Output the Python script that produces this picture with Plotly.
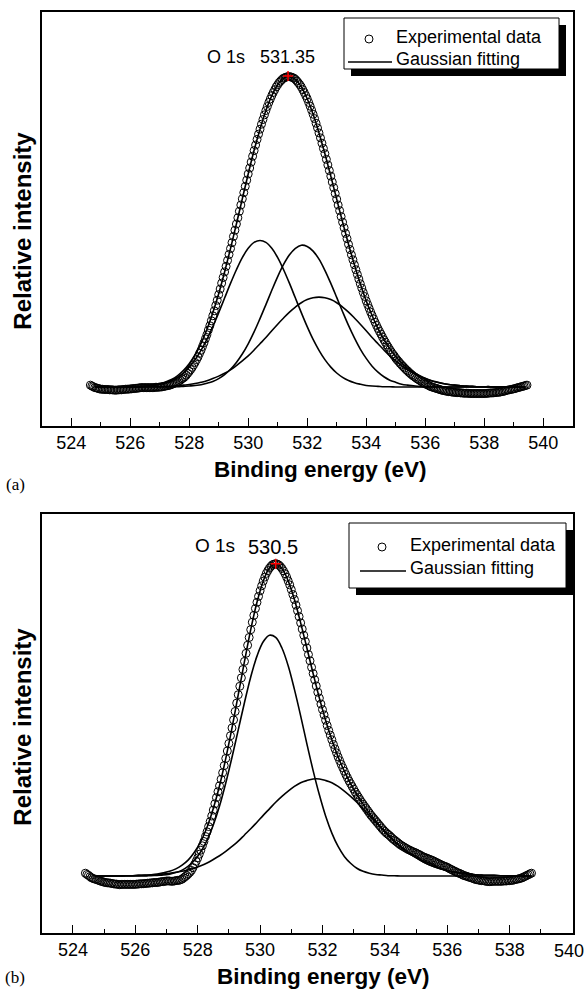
import plotly.graph_objects as go

# ---------------- data ----------------
# (a) experimental O 1s spectrum, sampled every 0.05 eV from 524.65 eV
EXP_A_START, EXP_STEP = 524.65, 0.05
exp_a = [
    0.6,0.3,0.1,-0.2,-0.3,-0.4,-0.6,-0.7,-0.7,-0.8,
    -0.8,-0.8,-0.8,-0.9,-0.9,-0.9,-1.0,-1.0,-1.0,-0.9,
    -0.9,-0.9,-0.8,-0.8,-0.7,-0.7,-0.7,-0.6,-0.6,-0.5,
    -0.5,-0.4,-0.4,-0.3,-0.2,-0.2,-0.2,-0.2,-0.2,-0.2,
    -0.2,-0.2,-0.2,-0.2,-0.1,-0.1,-0.1,0.0,0.0,0.1,
    0.2,0.3,0.4,0.5,0.6,0.8,1.0,1.2,1.4,1.6,
    1.9,2.2,2.6,
    2.9,3.3,3.8,4.4,5.0,5.6,6.3,7.1,7.9,8.8,
    9.7,10.8,11.8,13.0,14.2,15.5,16.8,18.3,19.7,21.3,
    22.9,24.5,26.2,27.9,29.7,31.5,33.4,35.2,37.0,38.8,
    40.7,42.6,44.5,46.4,48.4,50.4,52.4,54.4,56.5,58.5,
    60.5,62.5,64.5,66.5,68.5,70.4,72.3,74.2,76.0,77.8,
    79.6,81.3,82.9,84.5,86.0,87.5,88.9,90.2,91.5,92.6,
    93.7,94.7,95.6,96.5,97.2,97.9,98.4,98.9,99.3,99.5,
    99.7,99.8,99.8,99.7,99.5,99.3,98.9,98.4,97.8,97.2,
    96.5,95.6,94.7,93.7,92.7,91.5,90.3,89.0,87.7,86.3,
    84.8,83.3,81.7,80.1,78.4,76.7,75.0,73.2,71.4,69.6,
    67.8,65.9,64.1,62.2,60.4,58.5,56.7,54.8,53.0,51.2,
    49.4,47.7,45.9,44.2,42.5,40.9,39.3,37.7,36.2,34.7,
    33.2,31.8,30.4,29.1,27.7,26.5,25.3,24.1,23.0,21.9,
    20.8,19.8,18.8,17.9,17.0,16.1,15.2,14.4,13.5,12.8,
    12.0,11.3,10.6,10.0,9.3,8.7,8.2,7.6,7.1,6.6,
    6.1,5.6,5.2,4.7,4.3,3.9,3.5,3.2,2.8,2.5,
    2.2,1.9,1.6,1.3,1.0,0.8,0.6,0.3,0.1,-0.1,
    -0.2,-0.4,-0.5,-0.7,-0.8,-1.0,-1.1,-1.2,-1.3,-1.4,
    -1.5,-1.5,-1.6,-1.7,-1.7,-1.8,-1.8,-1.8,-1.9,-1.9,
    -2.0,-2.0,-2.0,-2.0,-2.1,-2.1,-2.1,-2.1,-2.1,-2.1,
    -2.1,-2.1,-2.1,-2.1,-2.1,-2.1,-2.0,-2.0,-1.9,-1.9,
    -1.9,-1.8,-1.8,-1.7,-1.7,-1.6,-1.5,-1.4,-1.3,-1.1,
    -1.0,-0.9,-0.8,-0.7,-0.6,-0.5,-0.3,-0.2,-0.1,0.1,
    0.2,0.3,0.5,0.6,
]
# (a) Gaussian components and their sum, every 0.2 eV from 524.8 eV
FIT_A_START, FIT_STEP = 524.8, 0.2
fit_a1 = [0,0,0,0,0, 0,0.1,0.1,0.2,0.3, 0.5,0.9,1.4,2.1,3.1, 4.5,6.4,8.8,11.8,15.3,
          19.4,23.9,28.6,33.3,37.7, 41.6,44.6,46.5,47.1,46.5, 44.6,41.6,37.7,33.3,28.6,
          23.9,19.4,15.3,11.8,8.8, 6.4,4.5,3.1,2.1,1.4, 0.9,0.5,0.3,0.2,0.1, 0.1,0,0,0,0,
          0,0,0,0,0, 0,0,0,0,0, 0,0,0,0,0, 0,0,0,0]
fit_a2 = [0,0,0,0,0, 0,0,0,0,0, 0,0,0,0.1,0.1, 0.2,0.3,0.5,0.7,1.2,
          1.8,2.7,4.0,5.7,7.9, 10.6,13.9,17.7,22.0,26.5, 31.1,35.5,39.4,42.5,44.6,
          45.6,45.2,43.7,41.1,37.5, 33.3,28.8,24.2,19.8,15.8, 12.2,9.2,6.7,4.8,3.3,
          2.2,1.5,0.9,0.6,0.4, 0.2,0.1,0.1,0,0, 0,0,0,0,0, 0,0,0,0,0, 0,0,0,0]
fit_a3 = [0,0,0,0,0, 0,0,0,0,0.1, 0.1,0.1,0.2,0.3,0.4, 0.6,0.8,1.1,1.5,2.0,
          2.7,3.5,4.4,5.5,6.9, 8.4,10.0,11.9,13.9,15.9, 18.1,20.2,22.2,24.1,25.7,
          27.1,28.1,28.7,28.9,28.7, 28.1,27.1,25.7,24.1,22.2, 20.2,18.1,15.9,13.9,11.9,
          10.0,8.4,6.9,5.5,4.4, 3.5,2.7,2.0,1.5,1.1, 0.8,0.6,0.4,0.3,0.2,
          0.1,0.1,0.1,0,0, 0,0,0,0]
fit_a_sum = [0,0,0,0,0, 0,0.1,0.1,0.2,0.4, 0.6,1.0,1.6,2.4,3.6, 5.3,7.5,10.4,14.0,18.5,
             23.9,30.0,37.0,44.5,52.4, 60.5,68.5,76.1,82.9,88.9, 93.7,97.2,99.3,99.8,98.9,
             96.5,92.7,87.7,81.7,75.0, 67.8,60.4,53.0,45.9,39.3, 33.2,27.7,23.0,18.8,15.3,
             12.3,9.8,7.8,6.1,4.8, 3.7,2.8,2.1,1.6,1.1, 0.8,0.6,0.4,0.3,0.2,
             0.1,0.1,0.1,0,0, 0,0,0,0]

# (b) experimental O 1s spectrum, every 0.05 eV from 524.40 eV
EXP_B_START = 524.40
exp_b = [
    0.9,0.5,0.2,-0.2,-0.6,-0.8,-1.0,-1.1,-1.3,-1.5,
    -1.7,-1.8,-2.0,-2.1,-2.2,-2.2,-2.3,-2.4,-2.5,-2.6,
    -2.6,-2.7,-2.8,-2.7,-2.7,-2.7,-2.7,-2.7,-2.7,-2.7,
    -2.7,-2.7,-2.7,-2.6,-2.6,-2.5,-2.5,-2.5,-2.4,-2.4,
    -2.3,-2.3,-2.2,-2.2,-2.1,-2.1,-2.1,-2.0,-1.9,-1.8,
    -1.8,-1.7,-1.6,-1.6,-1.6,-1.7,-1.7,-1.6,-1.5,-1.4,
    -1.4,-1.2,-1.0,-0.6,-0.2,0.2,0.7,1.2,1.8,2.7,
    3.7,4.7,5.8,7.0,8.3,9.7,11.1,12.7,14.2,15.9,
    17.5,19.3,21.2,23.2,25.2,27.1,29.0,31.1,33.2,35.5,
    37.8,40.2,42.6,45.1,47.6,50.2,52.9,55.6,58.3,61.0,
    63.7,66.4,69.0,71.6,74.2,76.7,79.2,81.6,83.8,86.0,
    88.0,89.9,91.7,93.3,94.8,96.1,97.3,98.2,99.0,99.6,
    100.1,100.3,100.4,100.3,100.0,99.5,98.9,98.1,97.2,96.1,
    94.9,93.6,92.1,90.5,88.9,87.1,85.3,83.4,81.4,79.4,
    77.4,75.4,73.3,71.2,69.2,67.1,65.1,63.1,61.1,59.1,
    57.2,55.3,53.5,51.8,50.1,48.4,46.8,45.3,43.8,42.3,
    40.9,39.6,38.3,37.1,35.9,34.8,33.7,32.6,31.6,30.6,
    29.7,28.8,27.9,27.0,26.2,25.4,24.6,23.8,23.1,22.4,
    21.7,21.0,20.3,19.6,19.0,18.4,17.8,17.2,16.6,16.0,
    15.4,14.8,14.3,13.8,13.4,13.0,12.5,12.0,11.6,11.2,
    10.8,10.4,10.0,9.7,9.4,9.1,8.8,8.5,8.3,8.0,
    7.8,7.6,7.4,7.1,6.9,6.6,6.3,6.1,5.9,5.7,
    5.5,5.3,5.1,4.9,4.6,4.4,4.1,3.9,3.6,3.4,
    3.2,3.0,2.8,2.5,2.2,2.0,1.7,1.5,1.2,1.0,
    0.8,0.6,0.3,0.1,0.0,-0.2,-0.4,-0.5,-0.7,-0.9,
    -1.1,-1.2,-1.3,-1.4,-1.5,-1.5,-1.6,-1.7,-1.8,-1.8,
    -1.8,-1.7,-1.7,-1.7,-1.7,-1.7,-1.7,-1.7,-1.6,-1.6,
    -1.6,-1.5,-1.5,-1.4,-1.4,-1.2,-1.1,-1.0,-0.9,-0.7,
    -0.6,-0.3,-0.1,0.2,0.4,0.7,0.9,
]
# (b) Gaussian components and their sum, every 0.2 eV from 524.7 eV
FIT_B_START = 524.7
fit_b1 = [0,0,0,0,0, 0,0,0,0,0.1, 0.2,0.3,0.6,1.1,1.9, 3.2,5.1,7.8,11.5,16.4,
          22.5,29.9,38.2,47.0,55.8, 64.0,70.7,75.3,77.4,76.7, 73.3,67.6,60.0,51.5,42.5,
          33.9,26.1,19.3,13.8,9.5, 6.3,4.1,2.5,1.5,0.9, 0.5,0.3,0.1,0.1,0,
          0,0,0,0,0, 0,0,0,0,0, 0,0,0,0,0, 0,0,0,0,0, 0]
fit_b2 = [0,0,0,0,0, 0.1,0.1,0.2,0.2,0.3, 0.4,0.6,0.9,1.2,1.5, 2.0,2.6,3.3,4.2,5.3,
          6.5,7.9,9.5,11.2,13.2, 15.2,17.3,19.5,21.6,23.7, 25.6,27.3,28.8,30.0,30.7,
          31.2,31.2,30.7,30.0,28.8, 27.3,25.6,23.7,21.6,19.5, 17.3,15.2,13.2,11.2,9.5,
          7.9,6.5,5.3,4.2,3.3, 2.6,2.0,1.5,1.2,0.9, 0.6,0.4,0.3,0.2,0.2, 0.1,0.1,0,0,0, 0]
fit_b_sum = [0,0,0,0,0, 0.1,0.1,0.2,0.3,0.4, 0.6,1.0,1.5,2.3,3.5, 5.2,7.7,11.1,15.7,21.7,
             29.0,37.8,47.6,58.3,69.0, 79.2,88.0,94.8,99.0,100.4, 98.9,94.9,88.9,81.4,73.3,
             65.1,57.2,50.1,43.8,38.3, 33.7,29.7,26.2,23.1,20.3, 17.8,15.4,13.3,11.3,9.5,
             7.9,6.5,5.3,4.2,3.3, 2.6,2.0,1.5,1.1,0.8, 0.6,0.4,0.3,0.2,0.2, 0.1,0.1,0,0,0, 0]

peak_a = (531.35, 100.0)
peak_b = (530.5, 100.4)
x_ticks = [524, 526, 528, 530, 532, 534, 536, 538, 540]
legend_labels = ["Experimental data", "Gaussian fitting"]

def grid(start, step, n):
    return [round(start + step * i, 3) for i in range(n)]

# ---------------- figure ----------------
W, H = 587, 990
def px(x): return x / W
def py(y): return 1 - y / H
FONT = "Liberation Sans"

fig = go.Figure()

def panel(xd, yd, lx, comps, env, xa, ya, peak):
    fig.add_trace(go.Scatter(x=xd, y=yd, mode='markers', name=legend_labels[0],
                             marker=dict(symbol='circle-open', size=8, color='black', line=dict(width=1)),
                             xaxis=xa, yaxis=ya))
    for c in comps:
        fig.add_trace(go.Scatter(x=lx, y=c, mode='lines', name=legend_labels[1],
                                 line=dict(color='black', width=1.6, shape='spline'),
                                 xaxis=xa, yaxis=ya))
    fig.add_trace(go.Scatter(x=lx, y=env, mode='lines', name=legend_labels[1],
                             line=dict(color='black', width=1.6, shape='spline'), xaxis=xa, yaxis=ya))
    fig.add_trace(go.Scatter(x=[peak[0]], y=[peak[1]], mode='markers', name='peak',
                             marker=dict(symbol='cross-thin', size=7, line=dict(color='red', width=1.5)),
                             xaxis=xa, yaxis=ya))

panel(grid(EXP_A_START, EXP_STEP, len(exp_a)), exp_a, grid(FIT_A_START, FIT_STEP, len(fit_a_sum)),
      [fit_a1, fit_a2, fit_a3], fit_a_sum, 'x', 'y', peak_a)
panel(grid(EXP_B_START, EXP_STEP, len(exp_b)), exp_b, grid(FIT_B_START, FIT_STEP, len(fit_b_sum)),
      [fit_b1, fit_b2], fit_b_sum, 'x2', 'y2', peak_b)

xdom = [41.7/W, 572.7/W]
def xaxis_style(labels):
    return dict(showline=True, mirror=True, linecolor='black', linewidth=1.5,
                ticks='inside', ticklen=8, tickwidth=1.3, tickcolor='black',
                tickmode='array', tickvals=x_ticks, ticktext=labels,
                minor=dict(ticks='inside', ticklen=4, tickwidth=1.3, tickcolor='black', dtick=1, tick0=523),
                showgrid=False, zeroline=False, tickfont=dict(family=FONT, size=18, color='black'))
common_y = dict(showline=True, mirror=True, linecolor='black', linewidth=1.5, ticks='',
                showticklabels=False, showgrid=False, zeroline=False)

top_labels = [str(v) for v in x_ticks]
# the last label of panel (b) sits on the frame edge; it is written as an annotation below
bottom_labels = [str(v) for v in x_ticks[:-1]] + [""]

fig.update_layout(
    width=W, height=H, margin=dict(l=0, r=0, t=0, b=0),
    paper_bgcolor='white', plot_bgcolor='white', showlegend=False,
    xaxis=dict(domain=xdom, range=[523, 541], anchor='y', **xaxis_style(top_labels)),
    yaxis=dict(domain=[py(426), py(12.3)], range=[-12.54, 120.48], anchor='x', **common_y),
    xaxis2=dict(domain=xdom, range=[523, 540.02], anchor='y2', **xaxis_style(bottom_labels)),
    yaxis2=dict(domain=[py(932.7), py(514.3)], range=[-18.23, 116.3], anchor='x2', **common_y),
)

ann = []
def label(text, x, y, size=18, bold=False, xanchor='center', angle=0, family=FONT):
    ann.append(dict(text=f"<b>{text}</b>" if bold else text, x=x, y=y, xref='paper', yref='paper',
                    xanchor=xanchor, yanchor='middle', showarrow=False, textangle=angle,
                    font=dict(family=family, size=size, color='black')))

shapes = []
def legend_box(x0, x1, y0, y1, row1, row2, text_x, sym_x, line_x0, line_x1):
    # drop shadow, then framed white box
    shapes.append(dict(type='rect', xref='paper', yref='paper', x0=px(x0 + 7), x1=px(x1 + 7),
                       y0=py(y1 + 7), y1=py(y0 + 7), fillcolor='black', line=dict(width=0)))
    shapes.append(dict(type='rect', xref='paper', yref='paper', x0=px(x0), x1=px(x1),
                       y0=py(y1), y1=py(y0), fillcolor='white', line=dict(color='black', width=1)))
    r = 4
    shapes.append(dict(type='circle', xref='paper', yref='paper', x0=px(sym_x - r), x1=px(sym_x + r),
                       y0=py(row1 + 2 + r), y1=py(row1 + 2 - r), line=dict(color='black', width=1)))
    shapes.append(dict(type='line', xref='paper', yref='paper', x0=px(line_x0), x1=px(line_x1),
                       y0=py(row2 + 3), y1=py(row2 + 3), line=dict(color='black', width=1.6)))
    label(legend_labels[0], px(text_x), py(row1), 18, xanchor='left')
    label(legend_labels[1], px(text_x), py(row2), 18, xanchor='left')

legend_box(344, 559, 18, 69, 37, 59, 394, 369, 348, 392)
legend_box(349, 566, 523, 588, 545, 568, 408, 382, 360, 406)

label(str(x_ticks[-1]), px(569), py(950.5), 18)
label("Binding energy (eV)", px(320), py(470), 22.5, True)
label("Binding energy (eV)", px(323), py(976.7), 22.5, True)
label("Relative intensity", px(21.7), py(231), 24, True, angle=-90)
label("Relative intensity", px(21.7), py(727), 24, True, angle=-90)
label("O 1s", px(247), py(57.5), 18, xanchor='right')
label("531.35", px(287.5), py(57.5), 18)
label("O 1s", px(237), py(545), 19, xanchor='right')
label("530.5", px(272.5), py(546.5), 20)
label("(a)", px(15), py(484), 17, family="Liberation Serif")
label("(b)", px(15), py(977), 17, family="Liberation Serif")

fig.update_layout(annotations=ann, shapes=shapes)
fig.write_html("out.html")
